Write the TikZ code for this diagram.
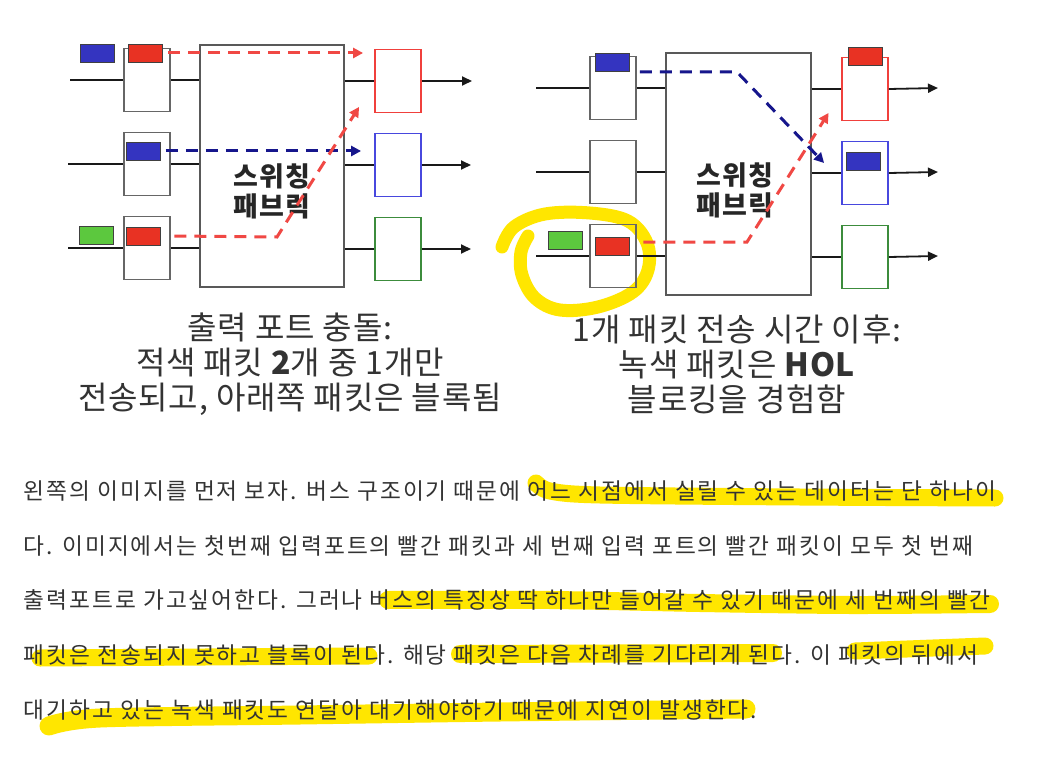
\documentclass[tikz,border=0pt]{standalone}
\usepackage{fontspec}
\setmainfont{Noto Sans CJK KR}
\newfontfamily\bodyfont[LetterSpace=8.8]{Noto Sans CJK KR}
\newfontfamily\capfont[LetterSpace=2.5]{Noto Sans CJK KR}
\newfontfamily\fabfont[LetterSpace=5]{Noto Sans CJK KR}
\usetikzlibrary{arrows.meta, positioning}

\definecolor{pkred}{RGB}{232,50,35}
\definecolor{pkblue}{RGB}{52,52,192}
\definecolor{pkgreen}{RGB}{92,200,62}
\definecolor{outred}{RGB}{240,64,60}
\definecolor{outblue}{RGB}{72,72,222}
\definecolor{outgreen}{RGB}{60,140,60}
\definecolor{dashred}{RGB}{240,72,68}
\definecolor{dashblue}{RGB}{22,22,140}
\definecolor{hlyellow}{RGB}{255,230,0}
\definecolor{bodytext}{RGB}{51,51,51}

\tikzset{
  buffer/.style={draw=black!60, line width=1.3pt, minimum width=46pt, minimum height=63pt, inner sep=0pt},
  outbuf/.style={buffer, line width=1.8pt},
  packet/.style={draw=black!75, line width=0.8pt, minimum width=34pt, minimum height=18pt, inner sep=0pt},
  fabric/.style={draw=black!65, line width=1.3pt, minimum width=144pt, minimum height=242pt, inner sep=0pt},
  fablabel/.style={font=\fabfont\fontsize{27}{30}\selectfont\bfseries, text=black!85, align=center},
  wire/.style={black!90, line width=1.8pt},
  outwire/.style={wire, -{Triangle[length=10pt, width=9pt]}},
  flow/.style={line width=3pt, dash pattern=on 12pt off 8pt, -{Triangle[length=10pt, width=10pt]}},
  caption/.style={font=\capfont\fontsize{32}{35}\selectfont, text=black!80, align=center},
  body/.style={anchor=base west, inner sep=0pt, font=\bodyfont\fontsize{22.7}{26}\selectfont, text=bodytext},
  highlight/.style={draw=hlyellow, line width=17pt, line cap=round, line join=round}
}

\begin{document}
\begin{tikzpicture}[x=1pt, y=-1pt, node distance=84pt, on grid]
  \fill[white] (0,0) rectangle (1050,757);
  \useasboundingbox (0,0) rectangle (1050,757);

  % marker strokes
  \draw[highlight, line width=13pt] plot[smooth, tension=0.6] coordinates {(502,247) (514,227) (545,214) (590,213) (628,221) (647,243) (648,270) (633,292) (598,307) (560,310) (535,298) (522,275) (521,252) (528,236)};
  \draw[highlight] plot[smooth] coordinates {(536,483) (550,491) (600,495) (800,497) (995,498)};
  \draw[highlight, line width=18pt] plot[smooth] coordinates {(388,600) (550,600) (700,603) (850,605) (990,604)};
  \draw[highlight] (40,658) -- (369,656);
  \draw[highlight, line width=18pt] (460,654) -- (773,653);
  \draw[highlight] (855,651) -- (985,646);
  \draw[highlight, line width=19pt] plot[smooth] coordinates {(49,726) (100,718) (300,715) (500,712) (746,709)};

  % left: output port contention
  \node[fabric] (fabA) at (272,166) {};
  \node[fablabel] (fabtextA) at (272,191.5) {스위칭\\패브릭};
  \node[buffer] (inA1) at (147,80) {};
  \node[buffer] (inA2) [below=of inA1] {};
  \node[buffer] (inA3) [below=of inA2] {};
  \node[outbuf, draw=outred] (outA1) at (398,81) {};
  \node[outbuf, draw=outblue] (outA2) [below=of outA1] {};
  \node[outbuf, draw=outgreen] (outA3) [below=of outA2] {};
  \coordinate (srcA1) at (70,80);
  \coordinate (srcA2) at (68,164);
  \coordinate (srcA3) at (68,248);
  \coordinate (dstA1) at (472,81);
  \coordinate (dstA2) at (471,165);
  \coordinate (dstA3) at (471,249);
  \draw[wire] (srcA1) -- (inA1.west) (inA1.east) -- (inA1.east -| fabA.west);
  \draw[wire] (srcA2) -- (inA2.west) (inA2.east) -- (inA2.east -| fabA.west);
  \draw[wire] (srcA3) -- (inA3.west) (inA3.east) -- (inA3.east -| fabA.west);
  \draw[wire] (outA1.west -| fabA.east) -- (outA1.west);
  \draw[wire] (outA2.west -| fabA.east) -- (outA2.west);
  \draw[wire] (outA3.west -| fabA.east) -- (outA3.west);
  \draw[outwire] (outA1.east) -- (dstA1);
  \draw[outwire] (outA2.east) -- (dstA2);
  \draw[outwire] (outA3.east) -- (dstA3);
  \node[packet, fill=pkblue] (blueA1) at (97,53) {};
  \node[packet, fill=pkred] (redA1) at (145,53) {};
  \node[packet, fill=pkblue] (blueA2) at (143.5,151) {};
  \node[packet, fill=pkgreen] (greenA3) at (96,235) {};
  \node[packet, fill=pkred] (redA3) at (143,236) {};
  \coordinate (bendA) at (277,237);
  \draw[flow, dashred] ([xshift=6pt]redA1.east) -- ([xshift=-11pt]redA1.east -| outA1.west);
  \draw[flow, dashblue] ([xshift=5pt]blueA2.east) -- ([xshift=-13pt]blueA2.east -| outA2.west);
  \draw[flow, dashred] ([xshift=14pt]redA3.east) -- (bendA) -- ([shift={(-15pt,6.5pt)}]outA1.south west);

  % right: after one packet time
  \node[fabric, minimum width=145pt] (fabB) at (738.5,174) {};
  \node[fablabel] (fabtextB) at (735,190) {스위칭\\패브릭};
  \node[buffer] (inB1) at (613,88) {};
  \node[buffer] (inB2) [below=of inB1] {};
  \node[buffer] (inB3) [below=of inB2] {};
  \node[outbuf, draw=outred] (outB1) at (865,89) {};
  \node[outbuf, draw=outblue] (outB2) [below=of outB1] {};
  \node[outbuf, draw=outgreen] (outB3) [below=of outB2] {};
  \coordinate (srcB1) at (536,88);
  \coordinate (srcB2) at (536,172);
  \coordinate (srcB3) at (536,256);
  \coordinate (dstB1) at (938,88);
  \coordinate (dstB2) at (938,172);
  \coordinate (dstB3) at (938,256);
  \draw[wire] (srcB1) -- (inB1.west) (inB1.east) -- (inB1.east -| fabB.west);
  \draw[wire] (srcB2) -- (inB2.west) (inB2.east) -- (inB2.east -| fabB.west);
  \draw[wire] (srcB3) -- (inB3.west) (inB3.east) -- (inB3.east -| fabB.west);
  \draw[wire] (outB1.west -| fabB.east) -- (outB1.west);
  \draw[wire] (outB2.west -| fabB.east) -- (outB2.west);
  \draw[wire] (outB3.west -| fabB.east) -- (outB3.west);
  \draw[outwire] (outB1.east) -- (dstB1);
  \draw[outwire] (outB2.east) -- (dstB2);
  \draw[outwire] (outB3.east) -- (dstB3);
  \node[packet, fill=pkblue] (blueB1) at (612.5,62) {};
  \node[packet, fill=pkgreen] (greenB3) at (565,240) {};
  \node[packet, fill=pkred] (redB3) at (612,246) {};
  \node[packet, fill=pkred] (redB4) at (865,56.5) {};
  \node[packet, fill=pkblue] (blueB5) at (863,161) {};
  \coordinate (bendB1) at (737,72);
  \coordinate (bendB3) at (747,242);
  \draw[flow, dashblue] ([shift={(10pt,-10pt)}]blueB1.east) -- (bendB1) -- ([shift={(-17pt,10pt)}]outB2.west);
  \draw[flow, dashred] ([shift={(14pt,4pt)}]redB3.east) -- (bendB3) -- ([shift={(-12.5pt,8.5pt)}]outB1.south west);

  % captions
  \node[caption] (capA) at (290,364) {출력 포트 충돌:\\적색 패킷 {\bfseries 2}개 중 1개만\\전송되고, 아래쪽 패킷은 블록됨};
  \node[caption] (capB) at (737,364) {1개 패킷 전송 시간 이후:\\녹색 패킷은 {\bfseries HOL}\\블로킹을 경험함};

  % paragraph
  \node[body] (line1) at (23.5,499) {왼쪽의 이미지를 먼저 보자. 버스 구조이기 때문에 어느 시점에서 실릴 수 있는 데이터는 단 하나이};
  \node[body] (line2) at (23.5,554) {다. 이미지에서는 첫번째 입력포트의 빨간 패킷과 세 번째 입력 포트의 빨간 패킷이 모두 첫 번째};
  \node[body] (line3) at (23.5,608.5) {출력포트로 가고싶어한다. 그러나 버스의 특징상 딱 하나만 들어갈 수 있기 때문에 세 번째의 빨간};
  \node[body] (line4) at (23.5,663) {패킷은 전송되지 못하고 블록이 된다. 해당 패킷은 다음 차례를 기다리게 된다. 이 패킷의 뒤에서};
  \node[body] (line5) at (23.5,718) {대기하고 있는 녹색 패킷도 연달아 대기해야하기 때문에 지연이 발생한다.};
\end{tikzpicture}
\end{document}
